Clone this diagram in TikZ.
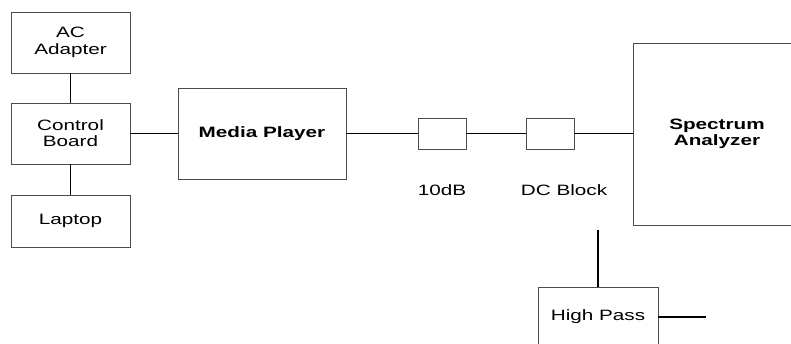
\documentclass[tikz,border=0pt]{standalone}
\usepackage{fontspec}
\setmainfont[FakeStretch=1.38]{Liberation Sans}
\begin{document}
\begin{tikzpicture}[x=1pt,y=-1pt,
  box/.style={draw=black!70,line width=0.9pt,inner sep=0pt,align=center,
    font=\fontsize{15}{16}\selectfont},
  wire/.style={draw=black,line width=1.9pt},
  lbl/.style={inner sep=0pt,font=\fontsize{15}{16}\selectfont}]
\useasboundingbox (0,0) rectangle (791,343);
\node[box,minimum width=119pt,minimum height=61pt,font=\fontsize{15}{17.5}\selectfont] (ac) at (70.5,42.5) {AC\\Adapter};
\node[box,minimum width=119pt,minimum height=61pt] (cb) at (70.5,133.5) {Control\\Board};
\node[box,minimum width=119pt,minimum height=52pt] (lap) at (70.5,221) {Laptop};
\node[box,minimum width=168pt,minimum height=91pt,font=\fontsize{15}{16}\selectfont\bfseries] (mp) at (262,133.5) {Media Player};
\node[box,minimum width=48pt,minimum height=31pt] (att) at (442,133.5) {};
\node[box,minimum width=48pt,minimum height=31pt] (dcb) at (550,133.5) {};
\node[box,minimum width=168pt,minimum height=182pt,font=\fontsize{15}{16}\selectfont\bfseries] (sa) at (717,134) {Spectrum\\Analyzer};
\node[box,minimum width=120pt,minimum height=60pt] (hp) at (598,317) {High Pass};
\node[lbl] (l10) at (442,190) {10dB};
\node[lbl] (ldc) at (564,190) {DC Block};
\coordinate (vtop) at (598,230);
\coordinate (hend) at (706,317);
\draw[wire] (ac.south) -- (cb.north);
\draw[wire] (cb.south) -- (lap.north);
\draw[wire] (cb.east) -- (mp.west);
\draw[wire] (mp.east) -- (att.west);
\draw[wire] (att.east) -- (dcb.west);
\draw[wire] (dcb.east) -- (dcb.east -| sa.west);
\draw[wire] (vtop) -- (hp.north);
\draw[wire] (hp.east) -- (hend);
\end{tikzpicture}
\end{document}
